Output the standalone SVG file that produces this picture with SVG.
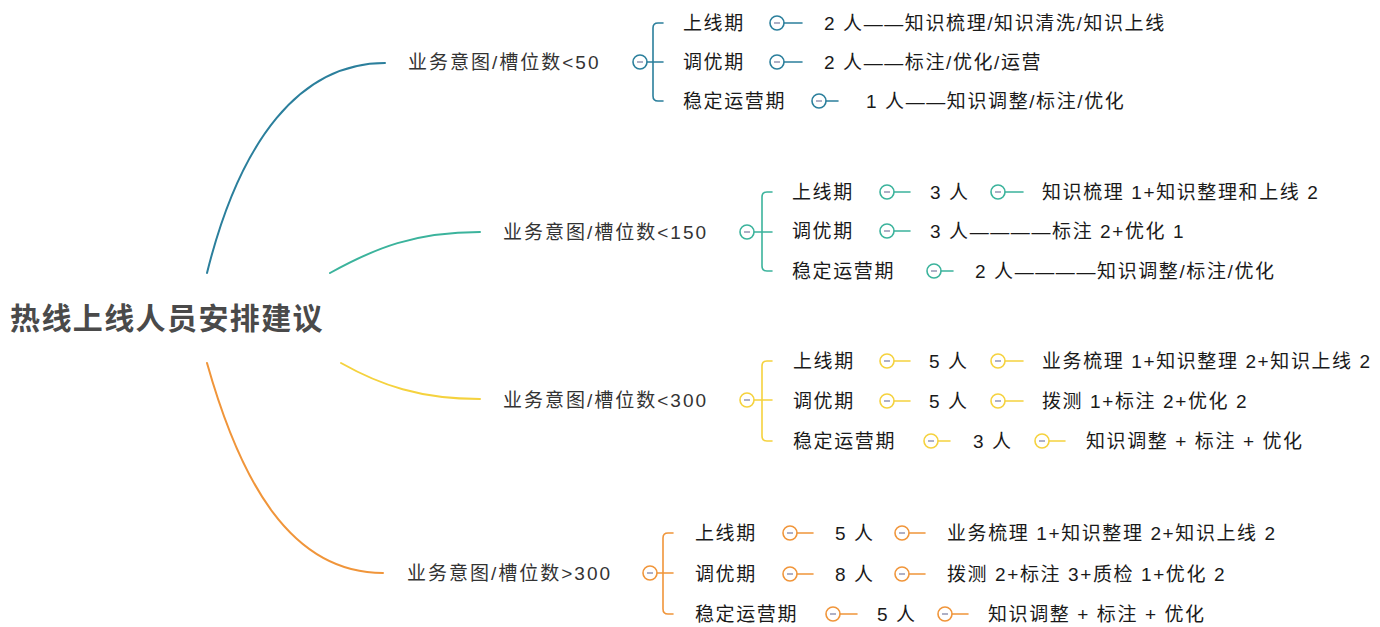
<svg xmlns="http://www.w3.org/2000/svg" xmlns:xlink="http://www.w3.org/1999/xlink" width="1380" height="627" viewBox="0 0 1380 627">
<style>
text{font-family:"Liberation Sans","Noto Sans CJK SC",sans-serif;}
.root{font-size:30px;font-weight:bold;fill:#4a4a4a;letter-spacing:1.4px;}
.lbl{font-size:19px;fill:#333;letter-spacing:2px;}
.t{font-size:19px;fill:#1a1a1a;letter-spacing:1.6px;}
.c{fill:none;stroke-width:2;stroke-linecap:round;}
.k{fill:none;stroke-width:1.6;stroke-linecap:round;}
.b{stroke:#2b7f9c;color:#2b7f9c;}
.g{stroke:#3bb39c;color:#3bb39c;}
.y{stroke:#f5d23e;color:#f5d23e;}
.o{stroke:#f0953a;color:#f0953a;}
</style>
<defs>
<g id="tog"><circle r="7" fill="#fff" stroke="currentColor" stroke-width="1.6"/><line x1="-3" x2="3" stroke="#8b8fae" stroke-width="1.4"/></g>
</defs>
<rect width="1380" height="627" fill="#fff"/>

<g id="connectors">
  <path class="c b" d="M207,273 C240,140 300,63 385,63"/>
  <path class="c g" d="M330,273 C375,248 415,232 480,232"/>
  <path class="c y" d="M341,363 C380,385 420,399 480,399"/>
  <path class="c o" d="M207,363 C240,480 290,573 383,573"/>

  <g class="b">
    <path class="k b" d="M646,62 H663 M663,23 H658 Q653,23 653,28 V96 Q653,101 658,101 H663"/>
    <path class="k b" d="M783,23 H802 M783,62 H802 M825,101 H838"/>
    <use xlink:href="#tog" x="640" y="62" color="#2b7f9c"/>
    <use xlink:href="#tog" x="777" y="23" color="#2b7f9c"/>
    <use xlink:href="#tog" x="777" y="62" color="#2b7f9c"/>
    <use xlink:href="#tog" x="819" y="101" color="#2b7f9c"/>
  </g>
  <g class="g">
    <path class="k g" d="M753,232 H772 M772,192 H767 Q762,192 762,197 V266 Q762,271 767,271 H772"/>
    <path class="k g" d="M893,192 H910 M1004,192 H1023 M893,231 H910 M940,271 H953"/>
    <use xlink:href="#tog" x="747" y="232" color="#3bb39c"/>
    <use xlink:href="#tog" x="887" y="192" color="#3bb39c"/>
    <use xlink:href="#tog" x="998" y="192" color="#3bb39c"/>
    <use xlink:href="#tog" x="887" y="231" color="#3bb39c"/>
    <use xlink:href="#tog" x="934" y="271" color="#3bb39c"/>
  </g>
  <g class="y">
    <path class="k y" d="M753,400 H772 M772,361 H767 Q762,361 762,366 V436 Q762,441 767,441 H772"/>
    <path class="k y" d="M893,361 H910 M1004,361 H1023 M893,401 H910 M1004,401 H1023 M937,441 H950 M1048,441 H1065"/>
    <use xlink:href="#tog" x="747" y="400" color="#f5d23e"/>
    <use xlink:href="#tog" x="887" y="361" color="#f5d23e"/>
    <use xlink:href="#tog" x="998" y="361" color="#f5d23e"/>
    <use xlink:href="#tog" x="887" y="401" color="#f5d23e"/>
    <use xlink:href="#tog" x="998" y="401" color="#f5d23e"/>
    <use xlink:href="#tog" x="931" y="441" color="#f5d23e"/>
    <use xlink:href="#tog" x="1042" y="441" color="#f5d23e"/>
  </g>
  <g class="o">
    <path class="k o" d="M656,573 H673 M673,533 H668 Q663,533 663,538 V609 Q663,614 668,614 H673"/>
    <path class="k o" d="M796,533 H813 M908,533 H925 M796,574 H813 M908,574 H925 M839,614 H857 M951,614 H968"/>
    <use xlink:href="#tog" x="650" y="573" color="#f0953a"/>
    <use xlink:href="#tog" x="790" y="533" color="#f0953a"/>
    <use xlink:href="#tog" x="902" y="533" color="#f0953a"/>
    <use xlink:href="#tog" x="790" y="574" color="#f0953a"/>
    <use xlink:href="#tog" x="902" y="574" color="#f0953a"/>
    <use xlink:href="#tog" x="833" y="614" color="#f0953a"/>
    <use xlink:href="#tog" x="945" y="614" color="#f0953a"/>
  </g>
</g>

<g id="root"><text class="root" x="10" y="329">热线上线人员安排建议</text></g>

<g id="b1">
  <text class="lbl" x="408" y="69">业务意图/槽位数&lt;50</text>
  <g id="b1-r1"><text class="t" x="683" y="30">上线期</text><text class="t" x="824" y="30">2 人——知识梳理/知识清洗/知识上线</text></g>
  <g id="b1-r2"><text class="t" x="683" y="69">调优期</text><text class="t" x="824" y="69">2 人——标注/优化/运营</text></g>
  <g id="b1-r3"><text class="t" x="683" y="108">稳定运营期</text><text class="t" x="866" y="108">1 人——知识调整/标注/优化</text></g>
</g>

<g id="b2">
  <text class="lbl" x="503" y="239">业务意图/槽位数&lt;150</text>
  <g id="b2-r1"><text class="t" x="792" y="199">上线期</text><text class="t" x="930" y="199">3 人</text><text class="t" x="1042" y="199">知识梳理 1+知识整理和上线 2</text></g>
  <g id="b2-r2"><text class="t" x="792" y="238">调优期</text><text class="t" x="930" y="238">3 人————标注 2+优化 1</text></g>
  <g id="b2-r3"><text class="t" x="792" y="278">稳定运营期</text><text class="t" x="975" y="278">2 人————知识调整/标注/优化</text></g>
</g>

<g id="b3">
  <text class="lbl" x="503" y="407">业务意图/槽位数&lt;300</text>
  <g id="b3-r1"><text class="t" x="793" y="368">上线期</text><text class="t" x="929" y="368">5 人</text><text class="t" x="1042" y="368">业务梳理 1+知识整理 2+知识上线 2</text></g>
  <g id="b3-r2"><text class="t" x="793" y="408">调优期</text><text class="t" x="929" y="408">5 人</text><text class="t" x="1042" y="408">拨测 1+标注 2+优化 2</text></g>
  <g id="b3-r3"><text class="t" x="793" y="448">稳定运营期</text><text class="t" x="973" y="448">3 人</text><text class="t" x="1086" y="448">知识调整 + 标注 + 优化</text></g>
</g>

<g id="b4">
  <text class="lbl" x="407" y="580">业务意图/槽位数&gt;300</text>
  <g id="b4-r1"><text class="t" x="695" y="540">上线期</text><text class="t" x="835" y="540">5 人</text><text class="t" x="947" y="540">业务梳理 1+知识整理 2+知识上线 2</text></g>
  <g id="b4-r2"><text class="t" x="695" y="581">调优期</text><text class="t" x="835" y="581">8 人</text><text class="t" x="947" y="581">拨测 2+标注 3+质检 1+优化 2</text></g>
  <g id="b4-r3"><text class="t" x="695" y="621">稳定运营期</text><text class="t" x="877" y="621">5 人</text><text class="t" x="988" y="621">知识调整 + 标注 + 优化</text></g>
</g>
</svg>
